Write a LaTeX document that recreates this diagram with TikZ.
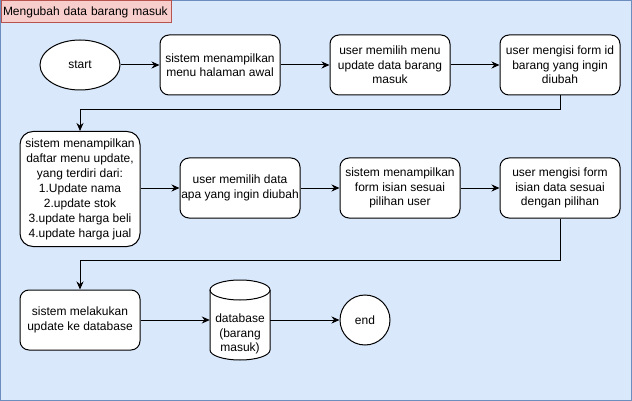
\documentclass[tikz,border=0pt]{standalone}
\usepackage{fontspec}
\setmainfont{Liberation Sans}
\usetikzlibrary{arrows.meta,shapes.geometric}
\definecolor{bgfill}{HTML}{DAE8FC}
\definecolor{bgline}{HTML}{6C8EBF}
\definecolor{ttlfill}{HTML}{F8CECC}
\definecolor{ttlline}{HTML}{B85450}
\begin{document}
\begin{tikzpicture}[x=1pt,y=-1pt,
  every node/.style={font=\fontsize{12}{14.4}\selectfont, align=center, inner sep=0pt},
  proc/.style={draw=black, fill=white, line width=1pt, rounded corners=9pt, minimum width=120pt, minimum height=60pt},
  arr/.style={draw=black, line width=1pt, -{Stealth[length=8pt,width=7pt]}}]
\useasboundingbox (0,0) rectangle (632,401);
\fill[bgfill] (0.5,0.5) rectangle (631.5,400.5);
\draw[bgline, line width=1pt] (0.5,0.5) rectangle (631.5,400.5);
\node[draw=ttlline, fill=ttlfill, line width=1pt, anchor=north west, minimum width=170pt, minimum height=22pt, text width=166pt, align=left, inner sep=2pt] (ttl) at (0.5,0.5) {Mengubah data barang masuk};

% row 1
\node[draw=black, fill=white, line width=1pt, ellipse, minimum width=80pt, minimum height=50pt] (start) at (80,65) {start};
\node[proc] (b1) at (220,65) {sistem menampilkan\\menu halaman awal};
\node[proc] (b2) at (390,65) {user memilih menu\\update data barang\\masuk};
\node[proc] (b3) at (560,65) {user mengisi form id\\barang yang ingin\\diubah};

% row 2
\node[proc, minimum height=115pt, rounded corners=13pt, font=\fontsize{12}{15}\selectfont] (b4) at (80,189) {sistem menampilkan\\daftar menu update,\\yang terdiri dari:\\1.Update nama\\2.update stok\\3.update harga beli\\4.update harga jual};
\node[proc] (b5) at (240,188) {user memilih data\\apa yang ingin diubah};
\node[proc] (b6) at (400,188) {sistem menampilkan\\form isian sesuai\\pilihan user};
\node[proc] (b7) at (560,188) {user mengisi form\\isian data sesuai\\dengan pilihan};

% row 3
\node[proc] (b8) at (80,320) {sistem melakukan\\update ke database};
\fill[white] (210,290) -- (210,350) arc[start angle=180, end angle=360, x radius=30pt, y radius=10pt] -- (270,290) arc[start angle=0, end angle=180, x radius=30pt, y radius=10pt] -- cycle;
\draw[black, line width=1pt] (210,290) -- (210,350) arc[start angle=180, end angle=360, x radius=30pt, y radius=10pt] -- (270,290);
\draw[black, line width=1pt] (240,290) ellipse[x radius=30pt, y radius=10pt];
\node[minimum width=60pt, minimum height=80pt] (db) at (240,320) {};
\node (dbtext) at (240,334) {database\\(barang\\masuk)};
\node[draw=black, fill=white, line width=1pt, circle, minimum size=50pt] (end) at (365,320) {end};

\coordinate (k1) at (560,110);
\coordinate (k2) at (560,260);

\draw[arr] (start) -- (b1);
\draw[arr] (b1) -- (b2);
\draw[arr] (b2) -- (b3);
\draw[arr] (b3.south) -- (k1) -| (b4.north);
\draw[arr] (b4.east |- b5.west) -- (b5.west);
\draw[arr] (b5) -- (b6);
\draw[arr] (b6) -- (b7);
\draw[arr] (b7.south) -- (k2) -| (b8.north);
\draw[arr] (b8) -- (db.west);
\draw[arr] (db.east) -- (end);
\end{tikzpicture}
\end{document}
